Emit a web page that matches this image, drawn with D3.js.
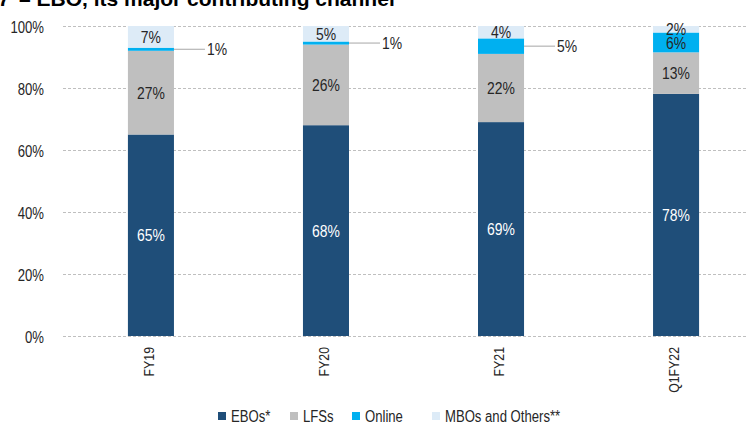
<!DOCTYPE html>
<html>
<head>
<meta charset="utf-8">
<script src="https://cdn.jsdelivr.net/npm/d3@7"></script>
<style>
  body { margin: 0; background: #fff; }
  svg { display: block; }
  text { font-family: "Liberation Sans Narrow", "Liberation Sans", Arial, sans-serif; }
</style>
</head>
<body>
<div id="chart"></div>
<script>
// data
const periods = ['FY19', 'FY20', 'FY21', 'Q1FY22']
const channels = ['EBOs*', 'LFSs', 'Online', 'MBOs and Others**']
const ebos = [65, 68, 69, 78.1]
const lfss = [27, 26, 22, 13.4]
const online = [1, 1, 5, 6.4]
const mbos = [7, 5, 4, 2.1]
const yTicks = [0, 20, 40, 60, 80, 100]

const colors = ['#1F4E79', '#BFBFBF', '#00B0F0', '#DDEBF7']

const w = 748
const h = 423
const k = 0.82  // horizontal squeeze, the chart uses a narrow font

// move x/y into a transform and squeeze the text sideways
function squeeze(sel, extra) {
    sel.each(function () {
        const t = d3.select(this)
        const x = +t.attr('x') || 0
        const y = +t.attr('y') || 0
        t.attr('x', 0).attr('y', 0)
            .attr('transform', 'translate(' + x + ',' + y + ')' + (extra || '') + ' scale(' + k + ',1)')
    })
}

const svg = d3.select('#chart')
    .append('svg')
    .attr('width', w)
    .attr('height', h)

// title, mostly cut off at the top of the picture
svg.append('text')
    .attr('x', -2)
    .attr('y', 5.5)
    .style('font-family', '"Liberation Sans", Arial, sans-serif')
    .style('font-weight', 'bold')
    .style('font-size', '21px')
    .attr('fill', '#000')
    .text('7')
svg.append('text')
    .attr('x', 19)
    .attr('y', 5.5)
    .style('font-family', '"Liberation Sans", Arial, sans-serif')
    .style('font-weight', 'bold')
    .style('font-size', '21px')
    .attr('fill', '#000')
    .text('\u2013 EBO, its major contributing channel')

// scales
const xScale = d3.scaleBand()
    .domain(periods)
    .range([63.5, 763.5])
    .paddingInner(0.737)
    .paddingOuter(0.368)

const yScale = d3.scaleLinear()
    .domain([0, 100])
    .range([336, 26])

// gridlines
svg.append('g')
    .selectAll('line')
    .data(yTicks)
    .enter()
    .append('line')
    .attr('x1', 63)
    .attr('x2', w)
    .attr('y1', d => yScale(d) + 0.5)
    .attr('y2', d => yScale(d) + 0.5)
    .attr('stroke', '#bfbfbf')
    .attr('stroke-width', 1)
    .attr('stroke-dasharray', '3,2')

// y axis labels
const yAxis = d3.axisLeft(yScale)
    .tickValues(yTicks)
    .tickFormat(d => d + '%')
    .tickSize(0)
    .tickPadding(0)

const yg = svg.append('g')
    .attr('transform', 'translate(44,0)')
    .call(yAxis)
yg.select('.domain').remove()
yg.selectAll('text')
    .style('font-size', '16px')
    .style('font-family', '"Liberation Sans Narrow", "Liberation Sans", Arial, sans-serif')
    .attr('fill', '#262626')
    .attr('dy', '0.42em')
    .call(squeeze)

// stack the series
const rows = periods.map((p, i) => ({
    period: p,
    'EBOs*': ebos[i],
    'LFSs': lfss[i],
    'Online': online[i],
    'MBOs and Others**': mbos[i]
}))
const series = d3.stack().keys(channels)(rows)

const groups = svg.selectAll('g.series')
    .data(series)
    .enter()
    .append('g')
    .attr('class', 'series')
    .attr('fill', (d, i) => colors[i])

groups.selectAll('rect')
    .data(d => d)
    .enter()
    .append('rect')
    .attr('x', d => xScale(d.data.period))
    .attr('width', xScale.bandwidth())
    .attr('y', d => yScale(d[1]))
    .attr('height', d => yScale(d[0]) - yScale(d[1]))

// data labels
const fmt = v => Math.round(v) + '%'

series.forEach((s, si) => {
    s.forEach(d => {
        const v = d[1] - d[0]
        const cx = xScale(d.data.period) + xScale.bandwidth() / 2
        const cy = (yScale(d[0]) + yScale(d[1])) / 2
        const outside = channels[si] == 'Online' && v <= 5
        if (outside) {
            const x0 = xScale(d.data.period) + xScale.bandwidth()
            svg.append('line')
                .attr('x1', x0)
                .attr('x2', x0 + 31)
                .attr('y1', cy)
                .attr('y2', cy)
                .attr('stroke', '#a6a6a6')
                .attr('stroke-width', 1)
            svg.append('text')
                .attr('x', x0 + 33)
                .attr('y', cy)
                .attr('dy', '0.36em')
                .style('font-size', '17px')
                .attr('fill', '#262626')
                .text(fmt(v))
                .call(squeeze)
        } else {
            svg.append('text')
                .attr('x', cx)
                .attr('y', cy)
                .attr('dy', '0.36em')
                .attr('text-anchor', 'middle')
                .style('font-size', '17px')
                .attr('fill', si == 0 ? '#ffffff' : '#262626')
                .text(fmt(v))
                .call(squeeze)
        }
    })
})

// x axis labels (rotated)
svg.append('g')
    .selectAll('text')
    .data(periods)
    .enter()
    .append('text')
    .attr('x', d => xScale(d) + xScale.bandwidth() / 2 - 2)
    .attr('y', 347)
    .attr('text-anchor', 'end')
    .attr('dy', '0.36em')
    .style('font-size', '15px')
    .attr('fill', '#262626')
    .text(d => d)
    .call(squeeze, ' rotate(-90)')

// legend
const legendX = [218, 290, 352, 432]
const legend = svg.append('g')
    .selectAll('g')
    .data(channels)
    .enter()
    .append('g')
    .attr('transform', (d, i) => 'translate(' + legendX[i] + ',412)')

legend.append('rect')
    .attr('width', 8)
    .attr('height', 8)
    .attr('fill', (d, i) => colors[i])

legend.append('text')
    .attr('x', 13)
    .attr('y', 9.5)
    .style('font-size', '16px')
    .attr('fill', '#262626')
    .text(d => d)
    .call(squeeze)
</script>
</body>
</html>
